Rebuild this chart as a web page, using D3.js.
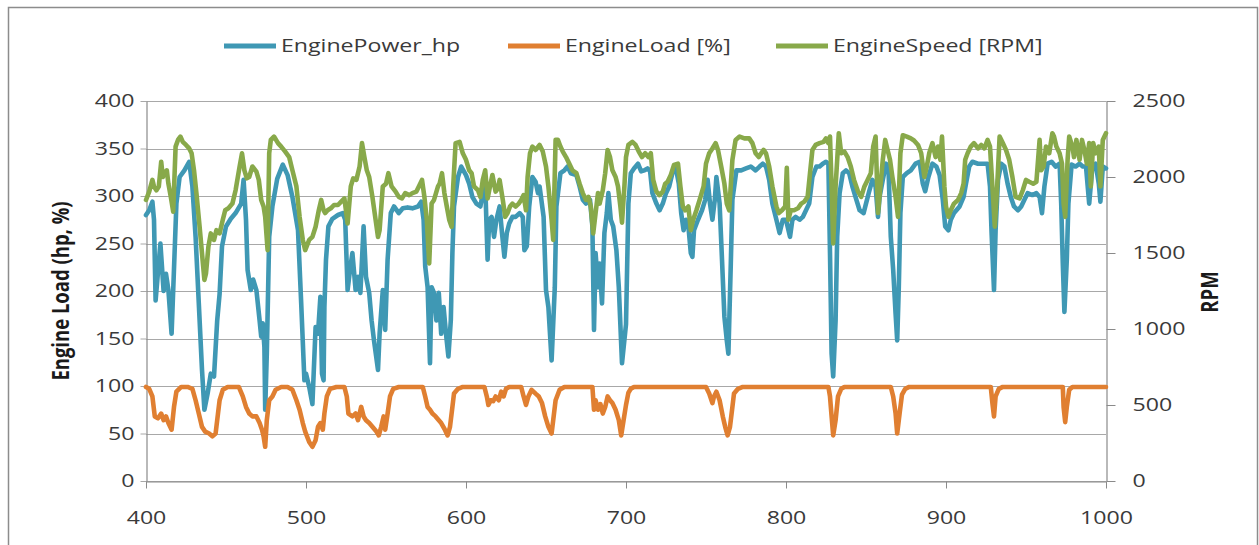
<!DOCTYPE html>
<html>
<head>
<meta charset="utf-8">
<script src="https://cdn.jsdelivr.net/npm/d3@7"></script>
<style>
  html, body { margin: 0; padding: 0; background: #ffffff; }
  svg { display: block; }
  text { font-family: "Open Sans", "Noto Sans", sans-serif; }
</style>
</head>
<body>
<svg id="chart" width="1259" height="545"></svg>
<script>
// ---------------- DATA ----------------
const seriesNames = ["EnginePower_hp", "EngineLoad [%]", "EngineSpeed [RPM]"];
const xTicks = [400, 500, 600, 700, 800, 900, 1000];
const leftTicks = [0, 50, 100, 150, 200, 250, 300, 350, 400];
const rightTicks = [0, 500, 1000, 1500, 2000, 2500];
const leftTitle = "Engine Load (hp, %)";
const rightTitle = "RPM";

const powerT = [400,402,404,405,406,409,411,412.5,414,416,419,421,424,427,429,431,433,435,436.5,438.5,440.5,442.5,444.5,446,447.5,450,453,456,459.5,461,462.5,463.5,465.5,467,469,471,472,473,474,474.5,475.5,477,479,482,485.5,488.5,491.5,495,497,499,
500,502,504,506,507.5,509,510,511,511.5,512.5,514,516.5,520,523,524.5,526,527.5,529,531,532.5,534,536,537.5,539.5,541,542.5,545,546,548,549.5,551,553,555,558,560.5,563.5,566.5,570,572,573.5,574.5,576,577.5,578.5,580,581.5,583,584.5,586,587.5,589,590.5,591.5,592.5,595,597,
600,602,604,606.5,609,610.5,612,613.5,614.5,616,617.5,619,621,622.5,624,625.5,627,629,631,633.5,635.5,636.5,638,639.5,641.5,643.5,645,646,648.5,650,651.5,653.5,655.5,656.5,659,661.5,663.5,665.5,669,671,673,675,677.5,679,680,681,682.5,683.5,685,686.5,688,689,690.5,692,694,695.5,697.5,700,701.5,
703,705,707.5,709.5,711.5,713.5,715,716.5,719,721,723,725,727,729,731,733,734.5,736,737.5,739,740.5,741.5,742.5,745,747.5,749.5,751,752.5,754,755.5,756.5,758.5,760,761.5,763,764,765.5,766.5,769,772,775,778,781,783.5,785.5,787.5,789.5,791.5,794,796,798,800,
802.5,804,806,808.5,810.5,812.5,814.5,816.5,819,821,823,825,826.5,827.5,828.5,829.5,831,832,833.5,835.5,837.5,839.5,841.5,844,846,848.5,850,852,854,856,857.5,858.5,860.5,862.5,864,865.5,867,868.5,869.5,870.5,871.5,873,875.5,878,881,883.5,885.5,887,889,891.5,894,896,898,899.5,
901.5,903,905,908.5,911,912.5,914.5,916.5,920,923,926,927.5,928.5,930,931,932.5,934.5,936.5,938.5,940.5,942.5,945,947,949,951,954,956.5,958.5,960,961.5,963.5,966,968.5,971,972,973,974,975.5,976.5,978.5,981,983.5,985.5,987.5,989.5,991.5,993.5,995.5,996.5,998,1000];
const powerV = [280,285,294,275,190,250,200,218,201,155,292,320,327,336,310,257,187,117,75,92,113,110,169,197,247,268,276,282,292,317,275,222,201,212,201,169,152,166,141,75,134,257,289,318,333,322,299,264,187,106,
113,99,81,162,155,194,113,106,183,233,268,276,280,282,275,201,222,240,201,215,198,268,215,198,169,148,117,155,201,159,233,282,289,282,287,288,287,289,294,275,226,204,124,204,198,169,198,155,183,155,131,169,240,289,320,331,
322,313,299,292,289,303,313,233,275,278,257,275,289,261,236,261,271,278,278,282,278,243,247,289,320,315,303,310,278,201,183,127,204,289,324,327,331,324,322,310,296,292,296,268,159,240,204,229,187,261,282,303,275,268,243,204,124,165,292,
324,329,334,326,327,329,327,303,292,285,292,303,310,324,331,313,282,264,275,268,240,236,264,275,285,296,317,292,275,296,320,292,233,173,148,134,229,296,327,327,329,331,327,331,334,331,317,292,275,261,275,275,
257,275,278,275,278,285,292,320,331,331,334,336,334,240,134,110,169,257,303,324,327,324,310,296,285,282,292,305,317,310,278,299,317,334,331,257,222,176,148,204,282,320,324,327,334,336,313,305,320,334,331,322,296,268,
264,275,282,289,299,313,331,336,334,334,334,310,261,201,264,317,334,331,313,299,289,285,289,296,303,301,303,299,282,310,334,336,331,334,292,229,178,233,292,333,331,334,331,331,292,331,334,313,294,331,329];

const loadT = [400,402,404,405.5,407.5,409.5,411,412.5,414,416,417.5,419,422,426,429,431,433,435,437,439.5,441.5,443.5,445,446,448,451,458,460.5,462.5,464.5,466.5,469,471,472.5,473.5,474.5,475.5,477,479,481,484.5,488.5,491.5,494,496,498,499.5,
502,504,506,507.5,509,510.5,511.5,513,515,519,524,525.5,526.5,529,531,532.5,534.5,536,537.5,539.5,541.5,544,545.5,547,548.5,549.5,551,552.5,554.5,558,573,574.5,576,577.5,579,581,583,584.5,586.5,588.5,590,591.5,592.5,595,598,
611.5,613,614,615.5,617,618.5,620.5,622,623.5,625,627,634.5,636,637.5,639,641,643.5,645.5,647.5,649.5,651.5,653.5,654.5,656,658.5,661.5,679,680,681,682.5,684,685.5,687,688.5,690,691.5,693.5,695.5,697,698.5,700,701.5,703,705,
750,752,754,755,756.5,758.5,760.5,762,763.5,765,766.5,767.5,770,773,826.5,827.5,828.5,829.5,831,832.5,834.5,836.5,865.5,867,868.5,869.5,871,872.5,874.5,877,928,929,930,931,933,935.5,973,973.5,974.5,975.5,977,979,1000];
const loadV = [99,97,89,68,66,71,64,68,61,54,78,94,99,99,97,85,71,57,52,50,47,50,71,85,96,99,99,89,78,71,68,68,61,54,47,36,64,85,89,96,99,99,96,85,75,61,52,
41,36,43,57,61,54,71,89,97,99,99,89,71,68,71,64,78,68,64,61,57,52,48,57,68,54,71,89,97,99,99,89,78,75,71,68,64,61,55,48,57,78,92,97,99,
99,89,80,85,84,89,85,94,89,97,99,99,89,80,89,96,92,89,82,68,57,50,64,85,96,99,99,75,85,75,81,71,78,89,85,82,75,64,48,64,80,93,97,99,
99,92,82,89,94,85,68,57,48,57,78,92,97,99,99,89,68,48,64,89,97,99,99,89,71,50,71,91,97,99,99,82,68,89,97,99,99,78,62,78,96,99,99];

const speedT = [400,402,404,405,406.5,408,409.5,410.5,411.5,413,414,415.5,417,418.5,420,421.5,423,425,427,428.5,430,431.5,433.5,435,436.5,437.5,439,440.5,442.5,444,446,448,449.5,451.5,454,456,458.5,460,461.5,463,464.5,466.5,469,470.5,472,473.5,474.5,476,477,478,480,482.5,484.5,487,489.5,491.5,494,496,498,499.5,
502,504,506,508,509.5,511,512,513.5,515.5,517.5,520,522,524,526,528,529.5,531.5,533.5,535,536.5,538,539.5,541.5,543.5,545,546,548,550,551.5,553.5,556,558,560,562,564.5,566.5,569,571,572.5,574,575.5,577,578.5,580,582.5,583.5,585,586.5,588,589.5,591,592,593.5,596,598,
600,602,603.5,605,607.5,609,610.5,612,613.5,615,616.5,618.5,620,621,623,624.5,626,627.5,629,631,633,634.5,636,637.5,638.5,640,641.5,643.5,646,648,650,651.5,653.5,654.5,656,657.5,659,660.5,662.5,664.5,666.5,669,671,673,675,676.5,678,679.5,681,682.5,683.5,685.5,687,688.5,690,691.5,693.5,695,696.5,697.5,699,700,
701.5,704,706,708,710,712,714,715.5,717,719,721,723,724.5,726,728,730,732.5,734,735.5,737,739,740.5,742,744,746,748.5,750,752,754,756,757.5,759.5,761.5,763,764.5,766.5,768.5,771,774,777,779,781,783,784.5,786,787.5,789.5,791.5,794,795.5,797.5,799.5,
800.5,801.5,803,805,807.5,809.5,811.5,813.5,815,816.5,818.5,821,823.5,825,826.5,827.5,828.5,829.5,831,833,834.5,836.5,838.5,840.5,842.5,845,847,849,851,853,854.5,856,857.5,859,860.5,862,863.5,865,866.5,868.5,870,871.5,873,875.5,878,880,882.5,884.5,886.5,888,889.5,891.5,893.5,895,896.5,897.5,899,900,
901.5,903,905,907.5,909.5,911,912,913.5,915.5,917.5,920,922,924,926,927.5,929,930.5,932,933.5,935.5,937.5,939.5,941.5,943.5,946,948,950,952,954.5,956.5,958.5,959.5,961,962.5,964.5,966.5,967.5,969,971,972.5,973.5,974.5,976,977,979,980,981.5,983.5,985,986.5,988,989.5,990.5,992,993.5,995.5,996.5,998,1000];
const speedV = [1849,1904,1981,1938,1913,1938,2100,2000,2025,2044,1956,1869,1772,2200,2244,2266,2231,2211,2188,2156,2044,1894,1673,1498,1323,1366,1542,1629,1586,1650,1629,1719,1781,1794,1825,1913,2069,2156,2044,1991,2000,2069,2035,1981,1849,1806,1738,1519,2156,2244,2266,2223,2200,2167,2131,2044,1938,1738,1586,1519,
1586,1606,1673,1781,1849,1781,1763,1781,1794,1816,1816,1838,1859,1694,1938,1991,1981,2069,2223,2131,2044,2000,1869,1719,1606,1650,1938,1956,2025,1938,1904,1869,1859,1894,1881,1894,1904,1948,1981,1869,1719,1431,1825,1849,1938,1956,2025,1894,1806,1719,1673,1938,2223,2231,2156,
2113,2044,2025,1938,1913,1869,1981,2044,1859,1938,2013,1904,1925,1981,1849,1738,1763,1806,1825,1806,1825,1849,1881,1781,2000,2156,2200,2178,2211,2167,2069,1938,1719,1586,2244,2244,2200,2167,2131,2088,2044,2025,1956,1894,1849,1869,1806,1629,1763,1894,1825,1913,2025,2178,2131,2044,2000,1938,1806,1700,1938,2131,
2211,2231,2211,2167,2131,2156,2131,2156,1981,1904,1881,1904,1956,1969,2013,2079,2088,1938,1806,1781,1806,1650,1719,1781,1849,1938,2088,2156,2188,2223,2178,2069,1956,1825,1781,2113,2244,2266,2254,2254,2223,2156,2131,2156,2178,2156,2069,1938,1806,1763,1781,1806,
2060,1719,1781,1781,1794,1825,1838,1869,2025,2178,2211,2223,2231,2254,2223,2266,1938,1563,1938,2288,2156,2167,2131,2069,1981,1904,1869,1938,1981,2025,2200,2266,1763,1938,2113,2244,2178,2113,2000,1869,1738,2156,2275,2266,2254,2240,2211,2156,2000,2069,2156,2223,2131,2200,2113,2266,1938,1806,
1738,1781,1825,1849,1894,1956,2113,2156,2200,2223,2188,2211,2188,2244,2200,1938,1673,1938,2266,2223,2178,2113,2000,1869,1859,1913,1981,1969,1956,1969,2244,2044,2069,2200,2156,2288,2266,2200,2156,2088,1825,1738,2113,2266,2200,2131,2244,2113,2244,2178,2088,2223,1938,2223,2156,2200,1938,2244,2288];

const colors = ["#3f98b4", "#e07f31", "#88a94a"];

// ---------------- DRAW ----------------
const SX = 1.25; // horizontal text stretch seen in reference
const svg = d3.select("#chart");
const W = 1259, H = 545;
const plot = { left: 146, right: 1106, top: 101, bottom: 481 };

svg.append("rect").attr("x", 0).attr("y", 0).attr("width", W).attr("height", H).attr("fill", "#fff");
svg.append("rect").attr("x", 8.5).attr("y", 7.5).attr("width", 1249).attr("height", 560)
  .attr("fill", "none").attr("stroke", "#8c8c8c").attr("stroke-width", 1.5);

const x = d3.scaleLinear().domain([400, 1000]).range([plot.left, plot.right]);
const yL = d3.scaleLinear().domain([0, 400]).range([plot.bottom, plot.top]);
const yR = d3.scaleLinear().domain([0, 2500]).range([plot.bottom, plot.top]);

const gridColor = "#a8a8a8";
const axisColor = "#8a8a8a";
const textColor = "#3a3a3a";
const fs = 18.5;
const fmt = d3.format("d");

// gridlines
svg.append("g").selectAll("line").data(leftTicks).join("line")
  .attr("x1", plot.left).attr("x2", plot.right)
  .attr("y1", d => Math.round(yL(d)) + 0.5).attr("y2", d => Math.round(yL(d)) + 0.5)
  .attr("stroke", gridColor).attr("stroke-width", 1.2);

// left axis
const gL = svg.append("g").attr("transform", `translate(${plot.left + 0.5},0)`)
  .call(d3.axisLeft(yL).tickValues(leftTicks).tickFormat(fmt).tickSize(6).tickSizeOuter(0));
gL.select(".domain").attr("stroke", axisColor).attr("stroke-width", 1.2);
gL.selectAll(".tick line").attr("stroke", gridColor);
gL.selectAll(".tick text").attr("x", -12 / SX).attr("transform", `scale(${SX},1)`)
  .attr("fill", textColor).style("font-size", fs + "px").style("font-family", "Open Sans");

// bottom axis
const gB = svg.append("g").attr("transform", `translate(0,${plot.bottom + 0.5})`)
  .call(d3.axisBottom(x).tickValues(xTicks).tickFormat(fmt).tickSize(7).tickSizeOuter(0));
gB.select(".domain").attr("stroke", axisColor).attr("stroke-width", 1.2);
gB.selectAll(".tick line").attr("stroke", axisColor);
gB.selectAll(".tick text").attr("y", 29).attr("transform", `scale(${SX},1)`)
  .attr("fill", textColor).style("font-size", fs + "px").style("font-family", "Open Sans");

// right axis
const gR = svg.append("g").attr("transform", `translate(${plot.right + 0.5},0)`)
  .call(d3.axisRight(yR).tickValues(rightTicks).tickFormat(fmt).tickSize(9).tickSizeOuter(0));
gR.select(".domain").attr("stroke", axisColor).attr("stroke-width", 1.2);
gR.selectAll(".tick line").attr("stroke", axisColor);
gR.selectAll(".tick text").attr("x", 26 / SX).attr("transform", `scale(${SX},1)`)
  .attr("fill", textColor).style("font-size", fs + "px").style("font-family", "Open Sans");

// axis titles
svg.append("text").attr("transform", `translate(61,291) scale(${SX},1) rotate(-90)`)
  .attr("text-anchor", "middle").attr("dy", "0.35em")
  .style("font-size", fs + "px").style("font-weight", "bold").attr("fill", "#1a1a1a").text(leftTitle);
svg.append("text").attr("transform", `translate(1210,292) scale(${SX},1) rotate(-90)`)
  .attr("text-anchor", "middle").attr("dy", "0.35em")
  .style("font-size", fs + "px").style("font-weight", "bold").attr("fill", "#1a1a1a").text(rightTitle);

// lines
svg.append("clipPath").attr("id", "plotclip").append("rect")
  .attr("x", plot.left - 3).attr("y", plot.top - 10).attr("width", plot.right - plot.left + 6).attr("height", plot.bottom - plot.top + 20);

function drawLine(T, V, yScale, color) {
  const pts = T.map((t, i) => [t, V[i]]);
  svg.append("path").datum(pts)
    .attr("clip-path", "url(#plotclip)")
    .attr("fill", "none").attr("stroke", color).attr("stroke-width", 4.6)
    .attr("stroke-linejoin", "round").attr("stroke-linecap", "round")
    .attr("d", d3.line().x(d => x(d[0])).y(d => yScale(d[1])));
}
drawLine(powerT, powerV, yL, colors[0]);
drawLine(loadT, loadV, yL, colors[1]);
drawLine(speedT, speedV, yR, colors[2]);

// legend
const legendLineX = [224, 508, 776];
const legend = svg.append("g");
seriesNames.forEach((name, i) => {
  legend.append("line").attr("x1", legendLineX[i]).attr("x2", legendLineX[i] + 52)
    .attr("y1", 46).attr("y2", 46).attr("stroke", colors[i]).attr("stroke-width", 5);
  legend.append("text").attr("x", (legendLineX[i] + 57) / SX).attr("y", 46).attr("dy", "0.35em")
    .attr("transform", `scale(${SX},1)`)
    .style("font-size", fs + "px").attr("fill", textColor).text(name);
});
</script>
</body>
</html>
